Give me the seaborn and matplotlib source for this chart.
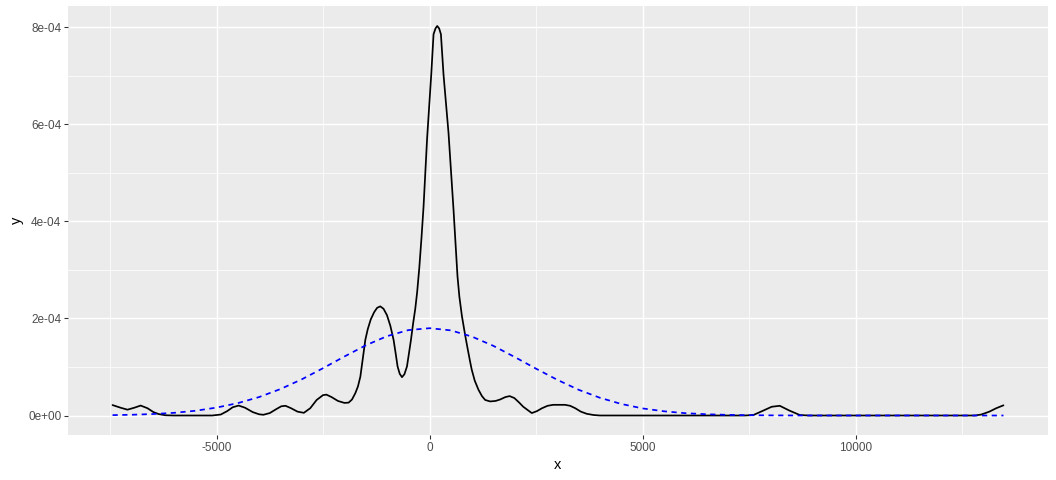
import numpy as np
import pandas as pd
import matplotlib
matplotlib.use("Agg")
import matplotlib.pyplot as plt
import seaborn as sns

dens_x = [-7440, -7250, -7090, -6930, -6780, -6620, -6480, -6360, -6200, -6000,
          -5500, -5100, -4900, -4750, -4620, -4480, -4330, -4150, -4000, -3900,
          -3750, -3600, -3480, -3380, -3250, -3100, -2950, -2800, -2650, -2500,
          -2420, -2300, -2150, -2000, -1900, -1820, -1742, -1680, -1624, -1547,
          -1507, -1450, -1380, -1300, -1230, -1156, -1080, -1000, -920, -844,
          -790, -750, -700, -647, -590, -530, -480, -436, -385, -335,
          -290, -240, -190, -141, -58, 40, 94, 140, 180, 225,
          267, 328, 445, 563, 656, 700, 760, 837, 900, 950,
          989, 1060, 1149, 1230, 1306, 1423, 1550, 1657, 1780, 1880,
          1990, 2100, 2200, 2400, 2520, 2640, 2770, 2900, 3180, 3300,
          3420, 3550, 3690, 3850, 4000, 7400, 7600, 7830, 8030, 8220,
          8450, 8690, 8900, 12800, 12950, 13140, 13300, 13470]
dens_y = [0.215, 0.16, 0.12, 0.16, 0.205, 0.15, 0.07, 0.03, 0.005, 0.0,
          0.0, 0.0, 0.02, 0.09, 0.17, 0.205, 0.16, 0.07, 0.025, 0.015,
          0.05, 0.13, 0.19, 0.20, 0.15, 0.08, 0.055, 0.15, 0.32, 0.42,
          0.43, 0.38, 0.30, 0.26, 0.265, 0.33, 0.46, 0.6, 0.8, 1.3,
          1.56, 1.78, 1.98, 2.13, 2.22, 2.25, 2.2, 2.07, 1.85, 1.56,
          1.25, 1.01, 0.86, 0.79, 0.85, 1.01, 1.3, 1.56, 1.9, 2.2,
          2.55, 3.05, 3.65, 4.3, 5.7, 7.03, 7.86, 7.98, 8.03, 7.98,
          7.86, 7.03, 5.83, 4.24, 2.87, 2.45, 2.05, 1.65, 1.35, 1.12,
          0.95, 0.72, 0.53, 0.4, 0.32, 0.29, 0.3, 0.33, 0.38, 0.4,
          0.36, 0.27, 0.18, 0.05, 0.09, 0.15, 0.2, 0.22, 0.22, 0.2,
          0.15, 0.08, 0.035, 0.01, 0.0, 0.0, 0.01, 0.1, 0.18, 0.20,
          0.1, 0.01, 0.0, 0.0, 0.02, 0.08, 0.15, 0.21]

# curva normal (azul tracejada)
norm_x = [-7440, -7000, -6500, -6000, -5500, -5000, -4500, -4000, -3500, -3000,
          -2500, -2000, -1500, -1000, -500, 0, 500, 1000, 1500, 2000,
          2500, 3000, 3500, 4000, 4500, 5000, 5500, 6000, 6500, 7000,
          7500, 8000, 8500, 9000, 13470]
norm_y = [0.008, 0.015, 0.03, 0.055, 0.097, 0.163, 0.255, 0.38, 0.545, 0.745,
          0.975, 1.215, 1.445, 1.635, 1.76, 1.80, 1.755, 1.625, 1.435, 1.205,
          0.965, 0.735, 0.53, 0.365, 0.238, 0.146, 0.087, 0.048, 0.026, 0.013,
          0.006, 0.003, 0.001, 0.0, 0.0]

x_ticks = [-5000, 0, 5000, 10000]
y_ticks = [0, 2e-4, 4e-4, 6e-4, 8e-4]
y_labels = ["0e+00", "2e-04", "4e-04", "6e-04", "8e-04"]

sns.set_theme(style="darkgrid", rc={
    "axes.facecolor": "#EBEBEB",
    "grid.color": "white",
    "axes.edgecolor": "#EBEBEB",
})
plt.rcParams["font.family"] = ["Liberation Sans", "DejaVu Sans"]

df_dens = pd.DataFrame({"x": dens_x, "y": np.array(dens_y) * 1e-4})
df_norm = pd.DataFrame({"x": norm_x, "y": np.array(norm_y) * 1e-4})

fig = plt.figure(figsize=(11, 5), dpi=96)
ax = fig.add_axes([68 / 1056, 1 - 435 / 480, (1048 - 68) / 1056, (435 - 6) / 480])

sns.lineplot(data=df_dens, x="x", y="y", ax=ax, color="black", linewidth=1.3,
             sort=False, estimator=None)
sns.lineplot(data=df_norm, x="x", y="y", ax=ax, color="blue", linewidth=1.3,
             sort=False, estimator=None)
ax.lines[-1].set_dashes((3, 2.6))

# eixos no estilo ggplot (expansão de 5%)
span_x = max(dens_x) - min(dens_x)
ax.set_xlim(min(dens_x) - 0.05 * span_x, max(dens_x) + 0.05 * span_x)
ax.set_ylim(-0.05 * 8.04e-4, 8.04e-4 * 1.05)

ax.set_xticks(x_ticks)
ax.set_xticklabels([str(t) for t in x_ticks])
ax.set_yticks(y_ticks)
ax.set_yticklabels(y_labels)
ax.set_xticks([-7500, -2500, 2500, 7500, 12500], minor=True)
ax.set_yticks([1e-4, 3e-4, 5e-4, 7e-4], minor=True)
ax.grid(which="major", color="white", linewidth=1.1)
ax.grid(which="minor", color="white", linewidth=0.55)

for s in ax.spines.values():
    s.set_visible(False)
ax.tick_params(axis="both", which="major", length=2.75, width=0.8, color="#333333",
               labelsize=8.8, labelcolor="#4D4D4D", pad=2.2, bottom=True, left=True)
ax.tick_params(axis="both", which="minor", length=0)

ax.set_xlabel("x", fontsize=11, color="black", labelpad=3)
ax.set_ylabel("y", fontsize=11, color="black", labelpad=3)

plt.savefig("out.png", dpi=96)
plt.close()
